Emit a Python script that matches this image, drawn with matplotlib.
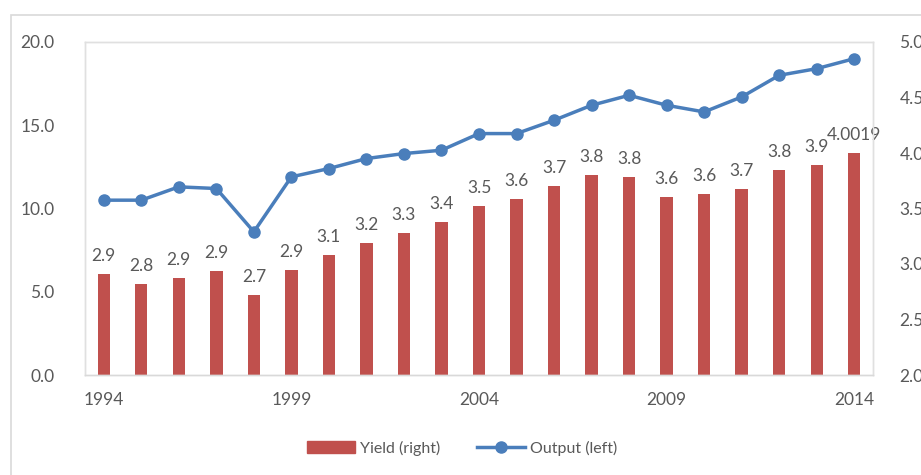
import matplotlib
matplotlib.use("Agg")
import matplotlib.pyplot as plt
from matplotlib.patches import Rectangle
from matplotlib.lines import Line2D

plt.rcParams['font.family'] = ['Lato', 'DejaVu Sans']

years = [1994, 1995, 1996, 1997, 1998, 1999, 2000, 2001, 2002, 2003, 2004,
         2005, 2006, 2007, 2008, 2009, 2010, 2011, 2012, 2013, 2014]
yield_right = [2.91, 2.82, 2.87, 2.94, 2.72, 2.95, 3.08, 3.19, 3.28, 3.38, 3.52,
               3.59, 3.70, 3.80, 3.78, 3.60, 3.63, 3.68, 3.85, 3.89, 4.0019]
yield_labels = ["2.9", "2.8", "2.9", "2.9", "2.7", "2.9", "3.1", "3.2", "3.3", "3.4", "3.5",
                "3.6", "3.7", "3.8", "3.8", "3.6", "3.6", "3.7", "3.8", "3.9", "4.0019"]
output_left = [10.5, 10.5, 11.3, 11.2, 8.6, 11.9, 12.4, 13.0, 13.3, 13.5, 14.5,
               14.5, 15.3, 16.2, 16.8, 16.2, 15.8, 16.7, 18.0, 18.4, 19.0]
x_ticks = [1994, 1999, 2004, 2009, 2014]
left_ticks = [0, 5, 10, 15, 20]
right_ticks = [2.0, 2.5, 3.0, 3.5, 4.0, 4.5, 5.0]

RED = '#C0504D'
BLUE = '#4A7EBB'
GRAY = '#595959'

W, H = 921, 475
fig = plt.figure(figsize=(W / 100, H / 100), dpi=100)

# outer chart border
fig.patches.append(Rectangle((11 / W, -0.1), 1.2, (H - 15) / H + 0.1, transform=fig.transFigure,
                             fill=False, edgecolor='#D9D9D9', linewidth=1.2, zorder=0))

left, right, top, bottom = 85, 873, 42, 375
ax = fig.add_axes([left / W, 1 - bottom / H, (right - left) / W, (bottom - top) / H])
ax2 = ax.twinx()

FS = 12.5

# Bars on right axis
ax2.bar(years, [v - 2.0 for v in yield_right], bottom=2.0, width=0.33, color=RED, zorder=2)
ax2.set_ylim(2.0, 5.0)
ax2.set_yticks(right_ticks)
ax2.set_yticklabels([f"{t:.1f}" for t in right_ticks])
for x, v, lab in zip(years, yield_right, yield_labels):
    ax2.text(x, v + 0.09, lab, ha='center', va='bottom', fontsize=FS, color=GRAY)

# Line on left axis (draw above bars)
ax.set_zorder(ax2.get_zorder() + 1)
ax.patch.set_visible(False)
ax.plot(years, output_left, color=BLUE, linewidth=2.5, marker='o', markersize=8, zorder=3)
ax.set_ylim(0, 20)
ax.set_yticks(left_ticks)
ax.set_yticklabels([f"{t:.1f}" for t in left_ticks])
ax.set_xlim(1993.5, 2014.5)
ax.set_xticks(x_ticks)
ax2.set_xlim(1993.5, 2014.5)

for a in (ax, ax2):
    for s in a.spines.values():
        s.set_color('#E0E0E0')
        s.set_linewidth(1.0)
    a.tick_params(length=0, labelsize=FS, labelcolor=GRAY)
ax.tick_params(axis='y', pad=22)
ax2.tick_params(axis='y', pad=19)
ax.tick_params(axis='x', pad=12)
ax.spines['bottom'].set_color('#D9D9D9')

handles = [Rectangle((0, 0), 1, 1, color=RED),
           Line2D([0], [0], color=BLUE, linewidth=2.5, marker='o', markersize=8)]
fig.legend(handles, ['Yield (right)', 'Output (left)'], loc='center',
           bbox_to_anchor=(462 / W, 1 - 448 / H), ncol=2, frameon=False,
           fontsize=11.5, labelcolor=GRAY, handlelength=3.0, handletextpad=0.3,
           columnspacing=2.3)

fig.savefig('out.png', dpi=100, facecolor='white')
